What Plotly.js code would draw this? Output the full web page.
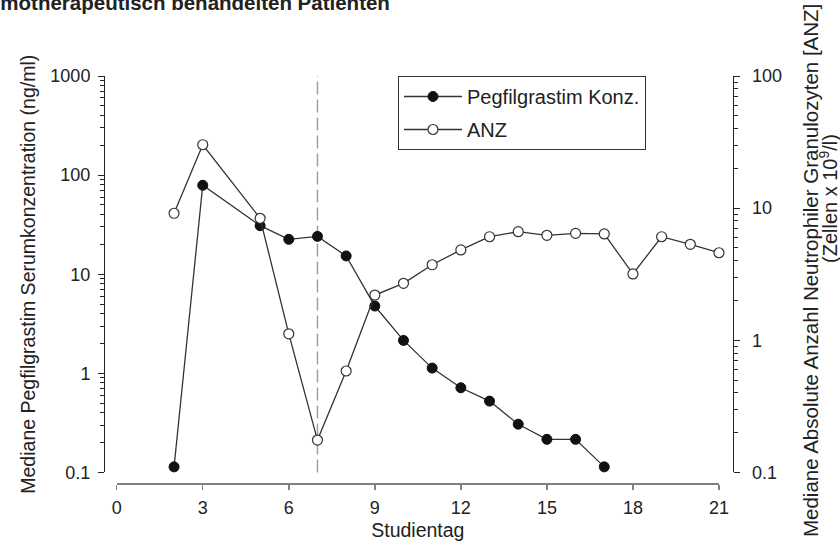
<!DOCTYPE html>
<html>
<head>
<meta charset="utf-8">
<script src="https://cdn.plot.ly/plotly-3.0.1.min.js"></script>
<style>html,body{margin:0;padding:0;background:#fff;}#chart{width:840px;height:541px;}</style>
</head>
<body>
<div id="chart"></div>
<script>
// Data
const pegDays = [2, 3, 5, 6, 7, 8, 9, 10, 11, 12, 13, 14, 15, 16, 17];
const pegConc = [0.114, 79, 30.9, 22.5, 24.1, 15.3, 4.78, 2.15, 1.13, 0.716, 0.525, 0.307, 0.216, 0.216, 0.114];
const anzDays = [2, 3, 5, 6, 7, 8, 9, 10, 11, 12, 13, 14, 15, 16, 17, 18, 19, 20, 21];
const anzVals = [9.15, 30.2, 8.38, 1.12, 0.176, 0.586, 2.2, 2.7, 3.73, 4.83, 6.08, 6.64, 6.23, 6.45, 6.38, 3.18, 6.08, 5.33, 4.6];
const xTicks = [0, 3, 6, 9, 12, 15, 18, 21];
const markerDay = 7;

const FONT = 'Liberation Sans, Arial, sans-serif';
const TXT = '#222';

const traces = [
  {
    x: pegDays, y: pegConc, name: 'Pegfilgrastim Konz.', yaxis: 'y',
    mode: 'lines+markers', cliponaxis: false, legendgroup: 'a',
    line: {color: '#333', width: 1.3},
    marker: {color: '#111', size: 10, line: {color: '#111', width: 1}}
  },
  {
    x: anzDays, y: anzVals, name: 'ANZ', yaxis: 'y2',
    mode: 'lines+markers', cliponaxis: false, legendgroup: 'b',
    line: {color: '#333', width: 1.3},
    marker: {color: '#fff', size: 10, line: {color: '#333', width: 1.2}}
  }
];

const yDom = [0.0258, 1];
const layout = {
  width: 840, height: 541,
  margin: {l: 104, r: 107, t: 76, b: 58},
  paper_bgcolor: '#fff', plot_bgcolor: '#fff',
  font: {family: FONT, color: TXT, size: 18},
  showlegend: true,
  legend: {
    x: 0.4674, y: 1, xanchor: 'left', yanchor: 'top',
    bordercolor: '#333', borderwidth: 1, bgcolor: '#fff',
    font: {family: FONT, size: 20, color: TXT},
    tracegroupgap: 4, itemwidth: 58
  },
  xaxis: {
    range: [0, 21], domain: [0.0202, 0.9777], anchor: 'free', position: 0,
    tickmode: 'array', tickvals: xTicks,
    ticks: 'outside', ticklen: 5, tickwidth: 1.5, tickcolor: '#808080',
    showline: true, linecolor: '#808080', linewidth: 1.5,
    showgrid: false, zeroline: false, ticklabelstandoff: 3,
    tickfont: {size: 18, family: FONT, color: TXT},
    title: {text: 'Studientag', font: {size: 19.5, family: FONT, color: TXT}, standoff: 8}
  },
  yaxis: {
    type: 'log', range: [-1, 3], domain: yDom, anchor: 'free', position: 0,
    dtick: 1, exponentformat: 'none',
    ticks: 'outside', ticklen: 6, tickcolor: '#222',
    minor: {ticks: 'outside', ticklen: 4, dtick: 'D1', tickcolor: '#222'},
    showline: true, linecolor: '#222', linewidth: 1.3,
    showgrid: false, zeroline: false, ticklabelstandoff: 4,
    tickfont: {size: 18, family: FONT, color: TXT},
    title: {text: 'Mediane Pegfilgrastim Serumkonzentration (ng/ml)', font: {size: 19.5, family: FONT, color: TXT}, standoff: 8}
  },
  yaxis2: {
    type: 'log', range: [-1, 2], domain: yDom, overlaying: 'y', side: 'right',
    anchor: 'free', position: 1,
    dtick: 1, exponentformat: 'none',
    ticks: 'outside', ticklen: 6, tickcolor: '#222',
    minor: {ticks: 'outside', ticklen: 4, dtick: 'D1', tickcolor: '#222'},
    showline: true, linecolor: '#222', linewidth: 1.3,
    showgrid: false, zeroline: false, ticklabelstandoff: 8,
    tickfont: {size: 18, family: FONT, color: TXT}
  },
  shapes: [
    {type: 'line', layer: 'below', xref: 'x', yref: 'y domain', x0: markerDay, x1: markerDay, y0: 0, y1: 1,
     line: {color: '#a0a0a0', width: 1.5, dash: '13px,5px'}}
  ],
  annotations: [
    {xref: 'paper', yref: 'paper', x: 0.458, y: 1.1476, xanchor: 'right', yanchor: 'bottom',
     showarrow: false, text: '<b>chemotherapeutisch behandelten Patienten</b>',
     font: {family: FONT, size: 20.5, color: TXT}},
    {xref: 'paper', yref: 'paper', x: 1.1224, y: 0.5233, xanchor: 'center', yanchor: 'middle',
     textangle: -90, showarrow: false,
     text: 'Mediane Absolute Anzahl Neutrophiler Granulozyten [ANZ]',
     font: {family: FONT, size: 20.5, color: TXT}},
    {xref: 'paper', yref: 'paper', x: 1.1510, y: 0.7002, xanchor: 'center', yanchor: 'middle',
     textangle: -90, showarrow: false,
     text: '(Zellen x 10<sup>9</sup>/l)',
     font: {family: FONT, size: 20, color: TXT}}
  ]
};

Plotly.newPlot('chart', traces, layout, {displayModeBar: false, staticPlot: true});
</script>
</body>
</html>
